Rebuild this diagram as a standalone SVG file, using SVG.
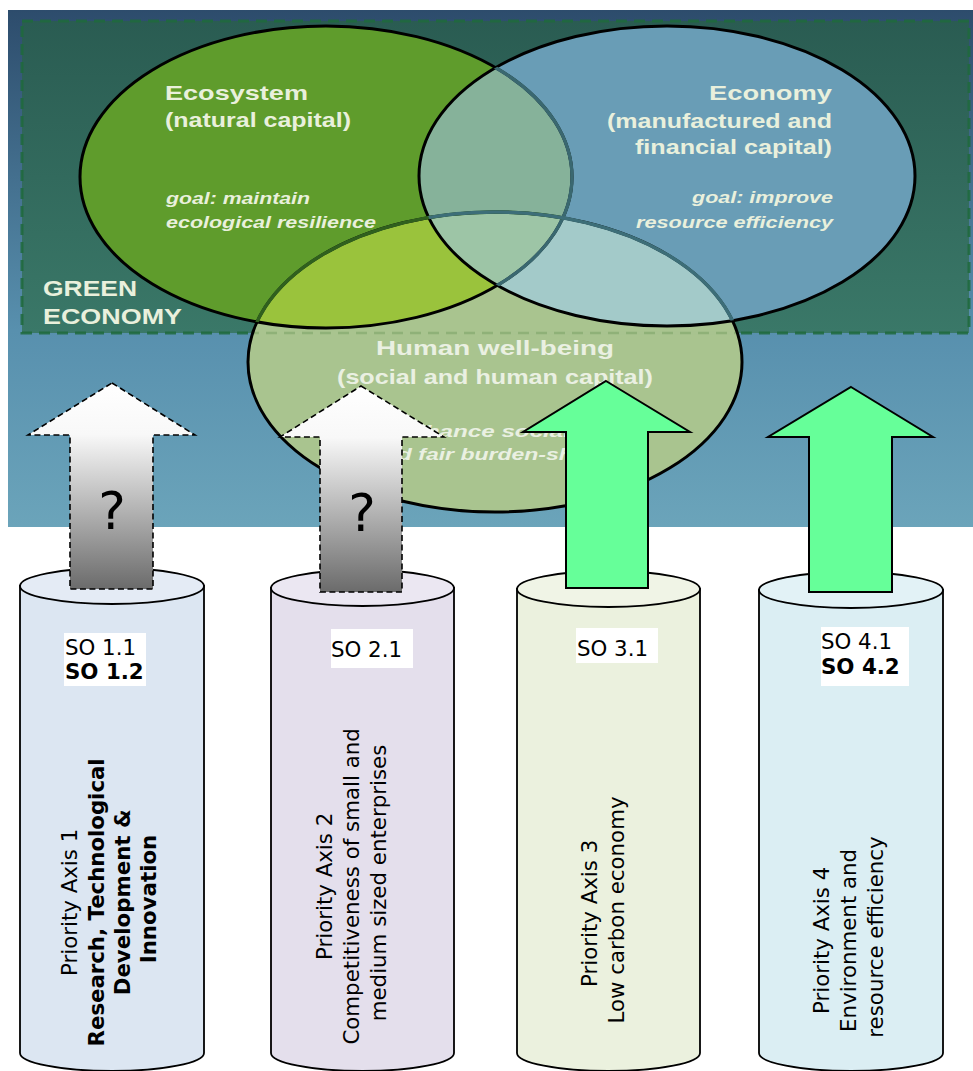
<svg xmlns="http://www.w3.org/2000/svg" width="973" height="1071" viewBox="0 0 973 1071">
<defs>
<style>
.vt{font-family:"Liberation Sans",Arial,sans-serif;font-weight:bold;fill:#e9f0dc}
.ti{font-size:21px}
.go{font-size:16px;font-style:italic}
.hu{fill:#eaf0e2}
.ct{font-family:"DejaVu Sans",Verdana,sans-serif;font-size:21.33px;fill:#000}
.b{font-weight:bold}
.cyl{stroke:#000;stroke-width:1.8}
.q{font-family:"DejaVu Sans",sans-serif;font-size:52px;fill:#000;text-anchor:middle}
.dash{fill:url(#ga);stroke:#000;stroke-width:1.6;stroke-dasharray:6 3.5}
.grn{fill:#66ff99;stroke:#000;stroke-width:2}
.ol{fill:none;stroke:#000;stroke-width:3}
</style>
<linearGradient id="bg" x1="0" y1="0" x2="0" y2="1">
<stop offset="0" stop-color="#2d4c6c"/>
<stop offset="0.62" stop-color="#5890ae"/>
<stop offset="1" stop-color="#6ba4ba"/>
</linearGradient>
<linearGradient id="ge" x1="0" y1="0" x2="0" y2="1">
<stop offset="0" stop-color="#2a5c52"/>
<stop offset="1" stop-color="#3a7868"/>
</linearGradient>
<linearGradient id="ga" x1="0" y1="0" x2="0" y2="1">
<stop offset="0" stop-color="#ffffff"/>
<stop offset="0.25" stop-color="#f8f8f8"/>
<stop offset="1" stop-color="#6b6b6b"/>
</linearGradient>
<clipPath id="cEco"><ellipse cx="326" cy="177" rx="246" ry="151"/></clipPath>
<clipPath id="cEcon"><ellipse cx="667" cy="176" rx="248" ry="150"/></clipPath>
<clipPath id="cHum"><ellipse cx="495" cy="362" rx="247" ry="150"/></clipPath>
</defs>

<g id="background">
<rect x="8" y="10" width="965" height="517" fill="url(#bg)"/>
<rect x="22" y="21" width="947" height="312" fill="url(#ge)"/>
<rect x="22" y="21" width="947" height="312" fill="none" stroke="#1f6a3c" stroke-width="3" stroke-dasharray="11 7" opacity="0.85"/>
</g>

<g id="venn">
<ellipse cx="326" cy="177" rx="246" ry="151" fill="#5f9c2c"/>
<ellipse cx="667" cy="176" rx="248" ry="150" fill="#699db6"/>
<ellipse cx="495" cy="362" rx="247" ry="150" fill="#a9c48f"/>
<ellipse cx="667" cy="176" rx="248" ry="150" fill="#86b29a" clip-path="url(#cEco)"/>
<ellipse cx="495" cy="362" rx="247" ry="150" fill="#9ac33c" clip-path="url(#cEco)"/>
<ellipse cx="495" cy="362" rx="247" ry="150" fill="#a3cac9" clip-path="url(#cEcon)"/>
<g clip-path="url(#cEco)"><ellipse cx="495" cy="362" rx="247" ry="150" fill="#9dc5a6" clip-path="url(#cEcon)"/></g>
<line x1="248" y1="333" x2="743" y2="333" stroke="#7fa56a" stroke-width="2.5" stroke-dasharray="11 7" opacity="0.6" clip-path="url(#cHum)"/>
<ellipse cx="326" cy="177" rx="246" ry="151" class="ol"/>
<ellipse cx="667" cy="176" rx="248" ry="150" class="ol"/>
<ellipse cx="495" cy="362" rx="247" ry="150" class="ol"/>
<ellipse cx="326" cy="177" rx="246" ry="151" fill="none" stroke="#3a6870" stroke-width="3.4" clip-path="url(#cEcon)"/>
<ellipse cx="495" cy="362" rx="247" ry="150" fill="none" stroke="#30601e" stroke-width="3.4" clip-path="url(#cEco)"/>
<ellipse cx="495" cy="362" rx="247" ry="150" fill="none" stroke="#3d6e78" stroke-width="3.4" clip-path="url(#cEcon)"/>
</g>

<g id="ecosystem-label" class="vt">
<text x="165" y="100" class="ti" textLength="143" lengthAdjust="spacingAndGlyphs">Ecosystem</text>
<text x="165" y="127" class="ti" textLength="186" lengthAdjust="spacingAndGlyphs">(natural capital)</text>
<text x="166" y="204" class="go" textLength="144" lengthAdjust="spacingAndGlyphs">goal: maintain</text>
<text x="166" y="228" class="go" textLength="210" lengthAdjust="spacingAndGlyphs">ecological resilience</text>
</g>
<g id="economy-label" class="vt" text-anchor="end">
<text x="832" y="100" class="ti" textLength="123" lengthAdjust="spacingAndGlyphs">Economy</text>
<text x="832" y="128" class="ti" textLength="225" lengthAdjust="spacingAndGlyphs">(manufactured and</text>
<text x="832" y="154" class="ti" textLength="197" lengthAdjust="spacingAndGlyphs">financial capital)</text>
<text x="833" y="203" class="go" textLength="141" lengthAdjust="spacingAndGlyphs">goal: improve</text>
<text x="833" y="228" class="go" textLength="197" lengthAdjust="spacingAndGlyphs">resource efficiency</text>
</g>
<g id="green-economy-label" class="vt">
<text x="43" y="296" style="font-size:22px" textLength="94" lengthAdjust="spacingAndGlyphs">GREEN</text>
<text x="43" y="324" style="font-size:22px" textLength="139" lengthAdjust="spacingAndGlyphs">ECONOMY</text>
</g>
<g id="human-label" class="vt">
<text x="495" y="355" class="ti hu" text-anchor="middle" textLength="238" lengthAdjust="spacingAndGlyphs">Human well-being</text>
<text x="495" y="384" class="ti hu" text-anchor="middle" textLength="316" lengthAdjust="spacingAndGlyphs">(social and human capital)</text>
<text x="332" y="437" class="go hu" textLength="316" lengthAdjust="spacingAndGlyphs">goal: enhance social equity</text>
<text x="371" y="460" class="go hu" textLength="258" lengthAdjust="spacingAndGlyphs">and fair burden-sharing</text>
</g>

<g id="axis1">
<path class="cyl" d="M20,586 V1053 A92,18 0 0 0 204,1053 V586 Z" fill="#dce6f2"/>
<ellipse class="cyl" cx="112" cy="586" rx="92" ry="18" fill="#e4ebf5"/>
<rect x="64" y="633" width="82" height="53" fill="#fff"/>
<text class="ct" x="65" y="655">SO 1.1</text>
<text class="ct b" x="65" y="679">SO 1.2</text>
<text class="ct" text-anchor="middle" transform="translate(0,899) rotate(-90)">
<tspan x="0" y="77">Priority Axis 1</tspan>
<tspan x="0" y="103.5" class="b" textLength="288" lengthAdjust="spacingAndGlyphs">Research, Technological</tspan>
<tspan x="0" y="130" class="b">Development &amp;</tspan>
<tspan x="0" y="156" class="b">Innovation</tspan>
</text>
</g>

<g id="axis2">
<path class="cyl" d="M271,588 V1053 A91.5,18 0 0 0 454,1053 V588 Z" fill="#e4dfec"/>
<ellipse class="cyl" cx="362.5" cy="588" rx="91.5" ry="18" fill="#ebe7f2"/>
<rect x="331" y="629" width="82" height="39" fill="#fff"/>
<text class="ct" x="331" y="657">SO 2.1</text>
<text class="ct" text-anchor="middle" transform="translate(0,883) rotate(-90)">
<tspan x="0" y="332">Priority Axis 2</tspan>
<tspan x="0" y="359">Competitiveness of small and</tspan>
<tspan x="0" y="386">medium sized enterprises</tspan>
</text>
</g>

<g id="axis3">
<path class="cyl" d="M517,589 V1053 A91.5,18 0 0 0 700,1053 V589 Z" fill="#ebf1de"/>
<ellipse class="cyl" cx="608.5" cy="589" rx="91.5" ry="18" fill="#f0f4e6"/>
<rect x="576" y="628" width="82" height="35" fill="#fff"/>
<text class="ct" x="577" y="656">SO 3.1</text>
<text class="ct" text-anchor="middle" transform="translate(0,910) rotate(-90)">
<tspan x="0" y="597">Priority Axis 3</tspan>
<tspan x="0" y="624">Low carbon economy</tspan>
</text>
</g>

<g id="axis4">
<path class="cyl" d="M759,590 V1053 A92,18 0 0 0 943,1053 V590 Z" fill="#dbeef3"/>
<ellipse class="cyl" cx="851" cy="590" rx="92" ry="18" fill="#e2f2f6"/>
<rect x="821" y="627" width="88" height="59" fill="#fff"/>
<text class="ct" x="821" y="649">SO 4.1</text>
<text class="ct b" x="821" y="674">SO 4.2</text>
<text class="ct" text-anchor="middle" transform="translate(0,937) rotate(-90)">
<tspan x="0" y="829">Priority Axis 4</tspan>
<tspan x="0" y="856">Environment and</tspan>
<tspan x="0" y="883">resource efficiency</tspan>
</text>
</g>

<g id="arrows">
<g id="arrow1">
<polygon class="dash" points="112,383 195,435 153,435 153,589 70,589 70,435 28,435"/>
<text class="q" x="112" y="529">?</text>
</g>
<g id="arrow2">
<polygon class="dash" points="361,386 444,437 402,437 402,592 320,592 320,437 280,437"/>
<text class="q" x="362" y="531">?</text>
</g>
<polygon id="arrow3" class="grn" points="606,381 690,432 648,432 648,588 566,588 566,432 523,432"/>
<polygon id="arrow4" class="grn" points="851,387 933,437 892,437 892,592 809,592 809,437 768,437"/>
</g>
</svg>
